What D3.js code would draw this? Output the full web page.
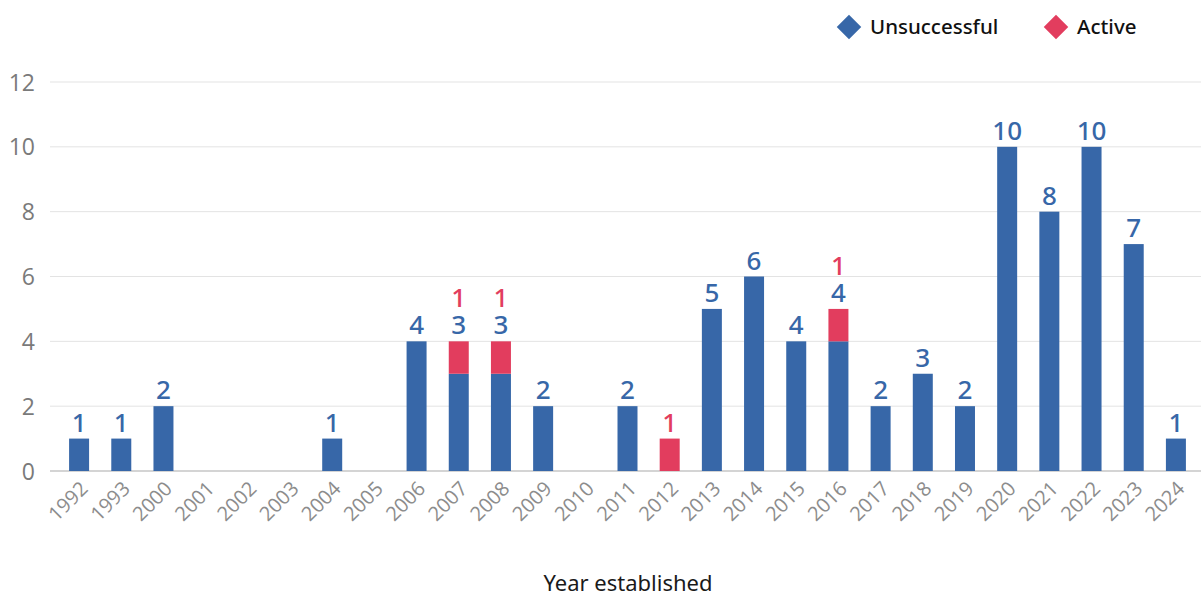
<!DOCTYPE html>
<html>
<head>
<meta charset="utf-8">
<script src="https://cdn.jsdelivr.net/npm/d3@7"></script>
<style>
  html, body { margin: 0; padding: 0; background: #fff; }
  svg { display: block; font-family: "Noto Sans", "Open Sans", sans-serif; }
</style>
</head>
<body>
<svg id="chart" width="1203" height="598"></svg>
<script>
// Years on the x axis
const years = ["1992","1993","2000","2001","2002","2003","2004","2005","2006","2007","2008","2009","2010","2011","2012","2013","2014","2015","2016","2017","2018","2019","2020","2021","2022","2023","2024"];
// Count of unsuccessful entries per year
const unsuccessful = [1,1,2,0,0,0,1,0,4,3,3,2,0,2,0,5,6,4,4,2,3,2,10,8,10,7,1];
// Count of active entries per year
const active = [0,0,0,0,0,0,0,0,0,1,1,0,0,0,1,0,0,0,1,0,0,0,0,0,0,0,0];
// Y axis ticks
const yTicks = [0,2,4,6,8,10,12];
const seriesNames = ["Unsuccessful","Active"];

const colors = { Unsuccessful: "#3767A8", Active: "#E23D5E" };

const svg = d3.select("#chart");

const x = d3.scaleBand()
  .domain(years)
  .range([58, 1197])
  .paddingInner(0.526)
  .paddingOuter(0.263);

const y = d3.scaleLinear().domain([0, 12]).range([471, 82]);

// Horizontal gridlines
svg.append("g")
  .selectAll("line")
  .data(yTicks)
  .join("line")
  .attr("x1", 50).attr("x2", 1201)
  .attr("y1", d => y(d)).attr("y2", d => y(d))
  .attr("stroke", d => d === 0 ? "#d4d4d4" : "#e3e3e3")
  .attr("stroke-width", d => d === 0 ? 2 : 1);

// Y axis labels
const yAxis = d3.axisLeft(y).tickValues(yTicks).tickSize(0).tickPadding(0);
svg.append("g")
  .attr("transform", "translate(35,0)")
  .call(yAxis)
  .call(g => g.select(".domain").remove())
  .call(g => g.selectAll("text")
    .attr("fill", "#7a7a7a")
    .attr("font-size", 23)
    .attr("font-family", "'Open Sans', sans-serif")
    .attr("dy", "0.35em"));

// Stacked data
const rows = years.map((yr, i) => ({ year: yr, Unsuccessful: unsuccessful[i], Active: active[i] }));
const stacked = d3.stack().keys(seriesNames)(rows);

svg.append("g")
  .selectAll("g")
  .data(stacked)
  .join("g")
  .attr("fill", s => colors[s.key])
  .selectAll("rect")
  .data(s => s.filter(d => d[1] - d[0] > 0))
  .join("rect")
  .attr("x", d => x(d.data.year))
  .attr("width", x.bandwidth())
  .attr("y", d => y(d[1]))
  .attr("height", d => y(d[0]) - y(d[1]));

// Value labels above each stack: unsuccessful count, then active count above it
const labels = [];
rows.forEach(r => {
  const top = y(r.Unsuccessful + r.Active);
  let base = top - 7;
  if (r.Unsuccessful > 0) {
    labels.push({ year: r.year, text: r.Unsuccessful, color: colors.Unsuccessful, yPos: base });
    base -= 27;
  }
  if (r.Active > 0) {
    labels.push({ year: r.year, text: r.Active, color: colors.Active, yPos: base });
  }
});

svg.append("g")
  .selectAll("text")
  .data(labels)
  .join("text")
  .attr("x", d => x(d.year) + x.bandwidth() / 2)
  .attr("y", d => d.yPos)
  .attr("text-anchor", "middle")
  .attr("fill", d => d.color)
  .attr("font-size", 26)
  .attr("font-weight", 500)
  .text(d => d.text);

// X axis labels, rotated
const xAxis = d3.axisBottom(x).tickSize(0).tickPadding(0);
svg.append("g")
  .attr("transform", "translate(0,471)")
  .call(xAxis)
  .call(g => g.select(".domain").remove())
  .call(g => g.selectAll("text")
    .attr("fill", "#8c8c8c")
    .attr("font-size", 20)
    .attr("font-family", "'Open Sans', sans-serif")
    .attr("text-anchor", "end")
    .attr("dy", 0)
    .attr("transform", "translate(10,19) rotate(-45)"));

// Axis title
svg.append("text")
  .attr("x", 628)
  .attr("y", 591)
  .attr("text-anchor", "middle")
  .attr("fill", "#1a1a1a")
  .attr("font-size", 22)
  .text("Year established");

// Legend
const legendItems = [
  { name: "Unsuccessful", x: 849 },
  { name: "Active", x: 1056 }
];
const legend = svg.append("g")
  .selectAll("g")
  .data(legendItems)
  .join("g")
  .attr("transform", d => `translate(${d.x},27)`);
legend.append("path")
  .attr("d", d3.symbol().type(d3.symbolSquare).size(300))
  .attr("transform", "rotate(45)")
  .attr("fill", d => colors[d.name]);
legend.append("text")
  .attr("x", 21)
  .attr("dy", "0.35em")
  .attr("fill", "#111")
  .attr("font-size", 20.5)
  .attr("font-weight", 500)
  .text(d => d.name);
</script>
</body>
</html>
